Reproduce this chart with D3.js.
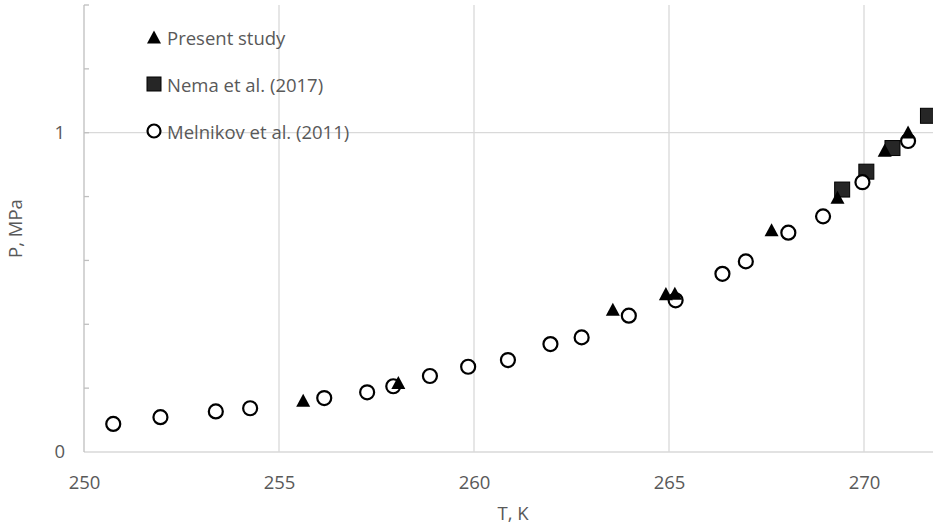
<!DOCTYPE html>
<html>
<head>
<meta charset="utf-8">
<script src="https://cdn.jsdelivr.net/npm/d3@7"></script>
<style>
  body { margin: 0; background: #fff; }
  svg { display: block; }
  text { font-family: "Open Sans", sans-serif; fill: #595959; }
</style>
</head>
<body>
<div class="chart"></div>
<script>
var width = 933, height = 528;
var margin = ({top: 5, right: -9, bottom: 76, left: 84});
var font = '"Open Sans", sans-serif';
var fontSize = "18.5px";

// data (T in K, P in MPa)
const presentT = [255.62, 258.06, 263.56, 264.92, 265.15, 267.63, 269.32, 270.53, 271.13];
const presentP = [0.162, 0.218, 0.447, 0.496, 0.497, 0.696, 0.798, 0.945, 1.002];

const nemaT = [269.44, 270.06, 270.73, 271.64];
const nemaP = [0.822, 0.878, 0.952, 1.053];

const melnikovT = [250.75, 251.96, 253.38, 254.26, 256.16, 257.26, 257.93, 258.87, 259.85, 260.87,
                   261.96, 262.76, 263.97, 265.17, 266.37, 266.97, 268.06, 268.95, 269.96, 271.13];
const melnikovP = [0.088, 0.109, 0.127, 0.137, 0.169, 0.187, 0.206, 0.238, 0.267, 0.288,
                   0.338, 0.359, 0.427, 0.475, 0.558, 0.597, 0.687, 0.738, 0.845, 0.974];

const xTicks = [250, 255, 260, 265, 270];
const yLabelTicks = [0, 1];
const yMinorTicks = [0.2, 0.4, 0.6, 0.8, 1, 1.2, 1.4];
const seriesNames = ["Present study", "Nema et al. (2017)", "Melnikov et al. (2011)"];

var innerW = width - margin.left - margin.right;
var innerH = height - margin.top - margin.bottom;

var svg = d3.select(".chart")
  .append("svg")
    .attr("width", width)
    .attr("height", height);
var g = svg.append("g")
    .attr("transform", `translate(${margin.left},${margin.top})`);

const x = d3.scaleLinear().domain([250, 272]).range([0, innerW]);
const y = d3.scaleLinear().domain([0, 1.4]).range([innerH, 0]);

// vertical gridlines
g.append("g")
  .selectAll("line")
  .data(xTicks.slice(1))
  .join("line")
    .attr("x1", d => x(d)).attr("x2", d => x(d))
    .attr("y1", 0).attr("y2", innerH)
    .attr("stroke", "#d9d9d9").attr("stroke-width", 1.3);

// horizontal gridline at 1 and baseline
g.append("g")
  .selectAll("line")
  .data(yLabelTicks)
  .join("line")
    .attr("x1", 0).attr("x2", innerW)
    .attr("y1", d => y(d)).attr("y2", d => y(d))
    .attr("stroke", "#d9d9d9").attr("stroke-width", 1.3);

// y axis line with inside minor ticks
g.append("line")
  .attr("x1", 0).attr("x2", 0).attr("y1", 0).attr("y2", innerH)
  .attr("stroke", "#bfbfbf").attr("stroke-width", 1.3);
g.append("g")
  .selectAll("line")
  .data(yMinorTicks)
  .join("line")
    .attr("x1", 0).attr("x2", 5)
    .attr("y1", d => y(d)).attr("y2", d => y(d))
    .attr("stroke", "#bfbfbf").attr("stroke-width", 1.3);

// x axis labels
g.append("g")
  .attr("transform", `translate(0,${innerH})`)
  .call(d3.axisBottom(x).tickValues(xTicks).tickSize(0).tickPadding(24))
  .call(a => a.select(".domain").remove())
  .selectAll("text")
    .style("font-family", font).style("font-size", fontSize).attr("fill", "#595959");

// y axis labels
g.append("g")
  .call(d3.axisLeft(y).tickValues(yLabelTicks).tickFormat(d3.format("d")).tickSize(0).tickPadding(19))
  .call(a => a.select(".domain").remove())
  .selectAll("text")
    .style("font-family", font).style("font-size", fontSize).attr("fill", "#595959");

// axis titles
svg.append("text")
  .attr("x", margin.left + innerW / 2).attr("y", 515)
  .attr("text-anchor", "middle").attr("dominant-baseline", "middle")
  .style("font-size", fontSize)
  .text("T, K");
svg.append("text")
  .attr("transform", `translate(17,${margin.top + innerH / 2}) rotate(-90)`)
  .attr("text-anchor", "middle").attr("dominant-baseline", "middle")
  .style("font-size", fontSize)
  .text("P, MPa");

// markers
function triPath(s) {
  var h = s * 0.93;
  return `M0,${-h/2}L${s/2},${h/2}L${-s/2},${h/2}Z`;
}

var nema = nemaT.map((t, i) => ({t: t, p: nemaP[i]}));
var meln = melnikovT.map((t, i) => ({t: t, p: melnikovP[i]}));
var pres = presentT.map((t, i) => ({t: t, p: presentP[i]}));

g.append("g").selectAll("rect")
  .data(nema)
  .join("rect")
    .attr("x", d => x(d.t) - 7.5).attr("y", d => y(d.p) - 7.5)
    .attr("width", 15).attr("height", 15)
    .attr("fill", "#262626").attr("stroke", "#000").attr("stroke-width", 1);

g.append("g").selectAll("circle")
  .data(meln)
  .join("circle")
    .attr("cx", d => x(d.t)).attr("cy", d => y(d.p))
    .attr("r", 7)
    .attr("fill", "#fff").attr("stroke", "#000").attr("stroke-width", 2.2);

g.append("g").selectAll("path")
  .data(pres)
  .join("path")
    .attr("transform", d => `translate(${x(d.t)},${y(d.p)})`)
    .attr("d", triPath(14))
    .attr("fill", "#000");

// legend
var legend = svg.append("g");
var lx = 154, ly = [37, 84, 131];
legend.append("path")
  .attr("transform", `translate(${lx},${ly[0]})`)
  .attr("d", triPath(14)).attr("fill", "#000");
legend.append("rect")
  .attr("x", lx - 7).attr("y", ly[1] - 7).attr("width", 14).attr("height", 14)
  .attr("fill", "#262626").attr("stroke", "#000");
legend.append("circle")
  .attr("cx", lx).attr("cy", ly[2]).attr("r", 6.5)
  .attr("fill", "#fff").attr("stroke", "#000").attr("stroke-width", 2.2);
legend.selectAll("text")
  .data(seriesNames)
  .join("text")
    .attr("x", 167).attr("y", (d, i) => ly[i])
    .attr("dominant-baseline", "central")
    .style("font-size", fontSize)
    .text(d => d);
</script>
</body>
</html>
